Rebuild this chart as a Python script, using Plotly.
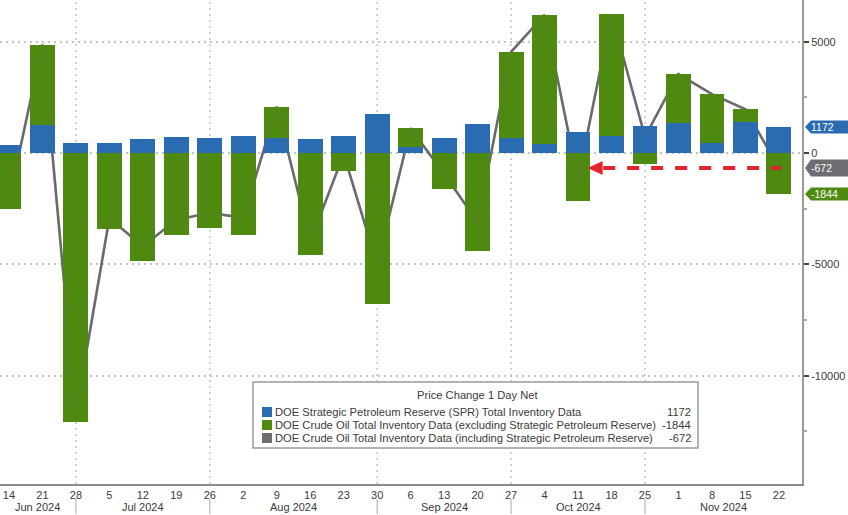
import plotly.graph_objects as go
import pandas as pd

# ---------------- data ----------------
week_dates = ['2024-06-14', '2024-06-21', '2024-06-28', '2024-07-05', '2024-07-12',
              '2024-07-19', '2024-07-26', '2024-08-02', '2024-08-09', '2024-08-16',
              '2024-08-23', '2024-08-30', '2024-09-06', '2024-09-13', '2024-09-20',
              '2024-09-27', '2024-10-04', '2024-10-11', '2024-10-18', '2024-10-25',
              '2024-11-01', '2024-11-08', '2024-11-15', '2024-11-22']
spr_change = [360, 1250, 430, 470, 650, 700, 690, 770, 680, 630, 760, 1760,
              280, 660, 1300, 660, 400, 950, 760, 1210, 1360, 460, 1400, 1172]
crude_ex_spr = [-2500, 3620, -12080, -3400, -4840, -3700, -3380, -3680, 1400, -4600,
                -810, -6780, 830, -1600, -4400, 3880, 5800, -2150, 5470, -480,
                2180, 2180, 560, -1844]
crude_incl_spr = [-2140, 4870, -11650, -2930, -4190, -3000, -2690, -2910, 2080, -3970,
                  -50, -5020, 1110, -940, -3100, 4540, 6200, -1200, 6230, 730,
                  3540, 2640, 1960, -672]
month_sep_dates = ['2024-06-28', '2024-07-26', '2024-08-30', '2024-09-27', '2024-10-25']
month_labels = ['Jun 2024', 'Jul 2024', 'Aug 2024', 'Sep 2024', 'Oct 2024', 'Nov 2024']
y_tick_vals = [5000, 0, -5000, -10000]
y_tick_text = ['5000', '0', '-5000', '-10000']
legend_title = 'Price Change 1 Day Net'
legend_names = ['DOE Strategic Petroleum Reserve (SPR) Total Inventory Data',
                'DOE Crude Oil Total Inventory Data (excluding Strategic Petroleum Reserve)',
                'DOE Crude Oil Total Inventory Data (including Strategic Petroleum Reserve)']
legend_values = [spr_change[-1], crude_ex_spr[-1], crude_incl_spr[-1]]

# ---------------- style ----------------
BLUE = '#2a6cb2'
GREEN = '#4f8a10'
GREY = '#6e6e72'
LINE = '#6a6a70'
RED = '#e0262b'
TXT = '#3a3a3a'
FONT = 'Liberation Sans'
DOTS = '2px,4px'

x_range = ['2024-06-12 03:00', '2024-11-26 20:00']
y_range = [-14860, 6870]
bar_w = 5.2 * 24 * 3600 * 1000

fig = go.Figure()

# line (drawn under the bars)
fig.add_trace(go.Scatter(x=week_dates, y=crude_incl_spr, mode='lines',
                         line=dict(color=LINE, width=2.6), xaxis='x', yaxis='y',
                         showlegend=False, hoverinfo='skip'))
# bars on overlaying axis (drawn above the line)
fig.add_trace(go.Bar(x=week_dates, y=spr_change, marker=dict(color=BLUE, line=dict(width=0)),
                     width=bar_w, xaxis='x', yaxis='y2', showlegend=False))
fig.add_trace(go.Bar(x=week_dates, y=crude_ex_spr, marker=dict(color=GREEN, line=dict(width=0)),
                     width=bar_w, xaxis='x', yaxis='y2', showlegend=False))
# faint see-through of the line over the bars
fig.add_trace(go.Scatter(x=week_dates, y=crude_incl_spr, mode='lines',
                         line=dict(color=LINE, width=2.2), opacity=0.14,
                         xaxis='x', yaxis='y2', showlegend=False, hoverinfo='skip'))

day_text = [str(pd.Timestamp(d).day) for d in week_dates]

shapes = []
annotations = []

# vertical dotted month gridlines and separators below the axis
for d in month_sep_dates:
    shapes.append(dict(type='line', xref='x', yref='paper', x0=d, x1=d, y0=0, y1=1,
                       line=dict(color='#c4c4c4', width=1.5, dash=DOTS), layer='below'))
    shapes.append(dict(type='line', xref='x', yref='paper', x0=d, x1=d,
                       y0=(484 - 499) / 484, y1=(484 - 514) / 484,
                       line=dict(color='#a8a8a8', width=1)))

# month labels centred between separators
bounds = [pd.Timestamp(x_range[0])] + [pd.Timestamp(d) for d in month_sep_dates] + [pd.Timestamp(x_range[1])]
for i, lab in enumerate(month_labels):
    mid = bounds[i] + (bounds[i + 1] - bounds[i]) / 2
    annotations.append(dict(text=lab, x=mid, xref='x', y=(484 - 507) / 484, yref='paper',
                            showarrow=False, xanchor='center', yanchor='middle',
                            font=dict(family=FONT, size=11, color=TXT)))

# right-hand value tags
tag_specs = [(spr_change[-1], BLUE, 6.5), (crude_incl_spr[-1], GREY, 8.5), (crude_ex_spr[-1], GREEN, 6.5)]
for val, col, h in tag_specs:
    shapes.append(dict(type='path', xref='paper', yref='y2', xsizemode='pixel', ysizemode='pixel',
                       xanchor=1, yanchor=val,
                       path=f'M3,0 L9,{h} L48,{h} L48,{-h} L9,{-h} Z',
                       fillcolor=col, line=dict(width=0)))
    annotations.append(dict(text=str(val), x=1, xref='paper', y=val, yref='y2', xshift=7,
                            xanchor='left', yanchor='middle', showarrow=False,
                            font=dict(family=FONT, size=10.5, color='white')))

# red dashed arrow at the latest total level
arrow_y = crude_incl_spr[-1]
shapes.append(dict(type='line', xref='x', yref='y2', x0='2024-10-16 06:00', x1='2024-11-22 12:00',
                   y0=arrow_y, y1=arrow_y, line=dict(color=RED, width=4, dash='dash')))
shapes.append(dict(type='path', xref='x', yref='y2', xsizemode='pixel', ysizemode='pixel',
                   xanchor='2024-10-13 00:00', yanchor=arrow_y,
                   path='M0,0 L15,-7 L15,7 Z', fillcolor=RED, line=dict(width=0)))

# legend box
lx0, lx1, ly0, ly1 = 253, 698, 382, 448
def px(x):
    return x / 802
def py(y):
    return (484 - y) / 484
shapes.append(dict(type='rect', xref='paper', yref='paper', x0=px(lx0), x1=px(lx1),
                   y0=py(ly1), y1=py(ly0), fillcolor='white',
                   line=dict(color='#9a9a9a', width=1.5)))
annotations.append(dict(text=legend_title, x=px((lx0 + lx1) / 2 + 2), xref='paper', y=py(395), yref='paper',
                        showarrow=False, xanchor='center', yanchor='middle',
                        font=dict(family=FONT, size=11.2, color=TXT)))
row_y = [412, 425, 438]
for name, val, col, ry in zip(legend_names, legend_values, [BLUE, GREEN, GREY], row_y):
    shapes.append(dict(type='rect', xref='paper', yref='paper', x0=px(262), x1=px(272),
                       y0=py(ry + 5), y1=py(ry - 5), fillcolor=col, line=dict(width=0)))
    annotations.append(dict(text=name, x=px(273), xref='paper', y=py(ry), yref='paper',
                            showarrow=False, xanchor='left', yanchor='middle',
                            font=dict(family=FONT, size=11.2, color=TXT)))
    annotations.append(dict(text=str(val), x=px(693), xref='paper', y=py(ry), yref='paper',
                            showarrow=False, xanchor='right', yanchor='middle',
                            font=dict(family=FONT, size=11.2, color=TXT)))

fig.update_layout(
    width=848, height=515,
    margin=dict(l=0, r=46, t=0, b=31),
    paper_bgcolor='white', plot_bgcolor='white',
    barmode='relative', bargap=0,
    showlegend=False,
    font=dict(family=FONT, size=11, color=TXT),
    xaxis=dict(type='date', range=x_range, tickmode='array', tickvals=week_dates,
               ticktext=day_text, showgrid=False, zeroline=False, showline=True,
               linecolor='#8c8c8c', linewidth=1.6, ticks='',
               tickfont=dict(family=FONT, size=11, color=TXT)),
    yaxis=dict(range=y_range, tickmode='array', tickvals=y_tick_vals, showticklabels=False,
               ticks='', showgrid=True, gridcolor='#c4c4c4', griddash=DOTS, gridwidth=1.5,
               zeroline=False, showline=False, fixedrange=True),
    yaxis2=dict(range=y_range, overlaying='y', side='right', tickmode='array',
                tickvals=y_tick_vals, ticktext=y_tick_text, showgrid=False, zeroline=False,
                showline=True, linecolor='#9a9a9a', linewidth=2,
                ticks='outside', ticklen=5, tickwidth=2, tickcolor='#444',
                minor=dict(tick0=0, dtick=2500, ticks='outside', ticklen=3, tickcolor='#aaa',
                           showgrid=False),
                tickfont=dict(family=FONT, size=11, color=TXT)),
    shapes=shapes,
    annotations=annotations,
)

fig.write_html('out.html')
